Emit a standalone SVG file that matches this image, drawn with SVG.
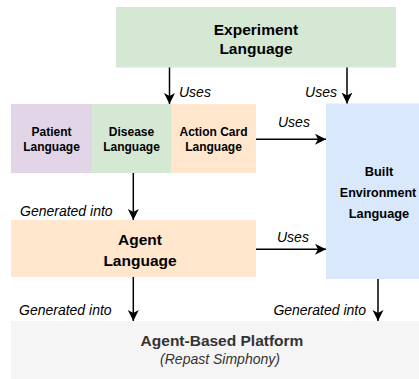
<svg xmlns="http://www.w3.org/2000/svg" width="419" height="379" viewBox="0 0 419 379">
  <defs>
    <marker id="arr" markerUnits="userSpaceOnUse" markerWidth="14" markerHeight="14" refX="11" refY="5.5" orient="auto">
      <path d="M0,0 L11,5.5 L0,11 L3,5.5 Z" fill="#000"/>
    </marker>
    <style>
      .big{font-family:"Liberation Sans",Arial,sans-serif;font-weight:bold;font-size:15.5px;text-anchor:middle;fill:#000}
      .sm{font-family:"Liberation Sans",Arial,sans-serif;font-weight:bold;font-size:12px;text-anchor:middle;fill:#000}
      .lbl{font-family:"Liberation Sans",Arial,sans-serif;font-style:italic;font-size:14px;fill:#000}
      .plat{font-family:"Liberation Sans",Arial,sans-serif;font-size:15.5px;text-anchor:middle;fill:#333}
      .edge{stroke:#000;stroke-width:1.5;fill:none;marker-end:url(#arr)}
    </style>
  </defs>

  <g id="experiment">
    <rect x="116" y="7" width="280" height="60.5" fill="#d5e8d4"/>
    <text class="big" x="256" y="34.5">Experiment</text>
    <text class="big" x="256" y="54">Language</text>
  </g>

  <g id="patient">
    <rect x="11" y="104" width="81" height="69" fill="#e1d5e7"/>
    <text class="sm" x="51.5" y="136">Patient</text>
    <text class="sm" x="51.5" y="150.5">Language</text>
  </g>

  <g id="disease">
    <rect x="92" y="104" width="79" height="69" fill="#d5e8d4"/>
    <text class="sm" x="131.5" y="136">Disease</text>
    <text class="sm" x="131.5" y="150.5">Language</text>
  </g>

  <g id="actioncard">
    <rect x="171" y="104" width="85" height="69" fill="#ffe6cc"/>
    <text class="sm" x="213.5" y="136">Action Card</text>
    <text class="sm" x="213.5" y="150.5">Language</text>
  </g>

  <g id="builtenv">
    <rect x="326" y="103.5" width="108" height="175.5" fill="#dae8fc"/>
    <text class="sm" x="379" y="176" style="font-size:12.8px">Built</text>
    <text class="sm" x="378" y="197.3" style="font-size:12.5px">Environment</text>
    <text class="sm" x="379" y="218" style="font-size:12.8px">Language</text>
  </g>

  <g id="agent">
    <rect x="11" y="220" width="245" height="57" fill="#ffe6cc"/>
    <text class="big" x="140" y="245">Agent</text>
    <text class="big" x="140" y="266">Language</text>
  </g>

  <g id="platform">
    <rect x="11" y="321" width="422" height="60" fill="#f5f5f5"/>
    <text class="plat" x="222" y="346" font-weight="bold">Agent-Based Platform</text>
    <text class="plat" x="220" y="364" font-style="italic" style="font-size:14px">(Repast Simphony)</text>
  </g>

  <g id="connectors">
    <line class="edge" x1="169.5" y1="67.5" x2="169.5" y2="104"/>
    <line class="edge" x1="347" y1="67.5" x2="347" y2="103.5"/>
    <line class="edge" x1="256" y1="139.3" x2="326" y2="139.3"/>
    <line class="edge" x1="133.3" y1="173" x2="133.3" y2="220"/>
    <line class="edge" x1="256" y1="249.3" x2="326" y2="249.3"/>
    <line class="edge" x1="133.3" y1="277" x2="133.3" y2="321"/>
    <line class="edge" x1="378" y1="279" x2="378" y2="321"/>
    <text class="lbl" x="179" y="97">Uses</text>
    <text class="lbl" x="337" y="97" text-anchor="end">Uses</text>
    <text class="lbl" x="278" y="127.3">Uses</text>
    <text class="lbl" x="277" y="242.3">Uses</text>
    <text class="lbl" x="20" y="215.7">Generated into</text>
    <text class="lbl" x="19" y="315">Generated into</text>
    <text class="lbl" x="366" y="315" text-anchor="end">Generated into</text>
  </g>
</svg>
